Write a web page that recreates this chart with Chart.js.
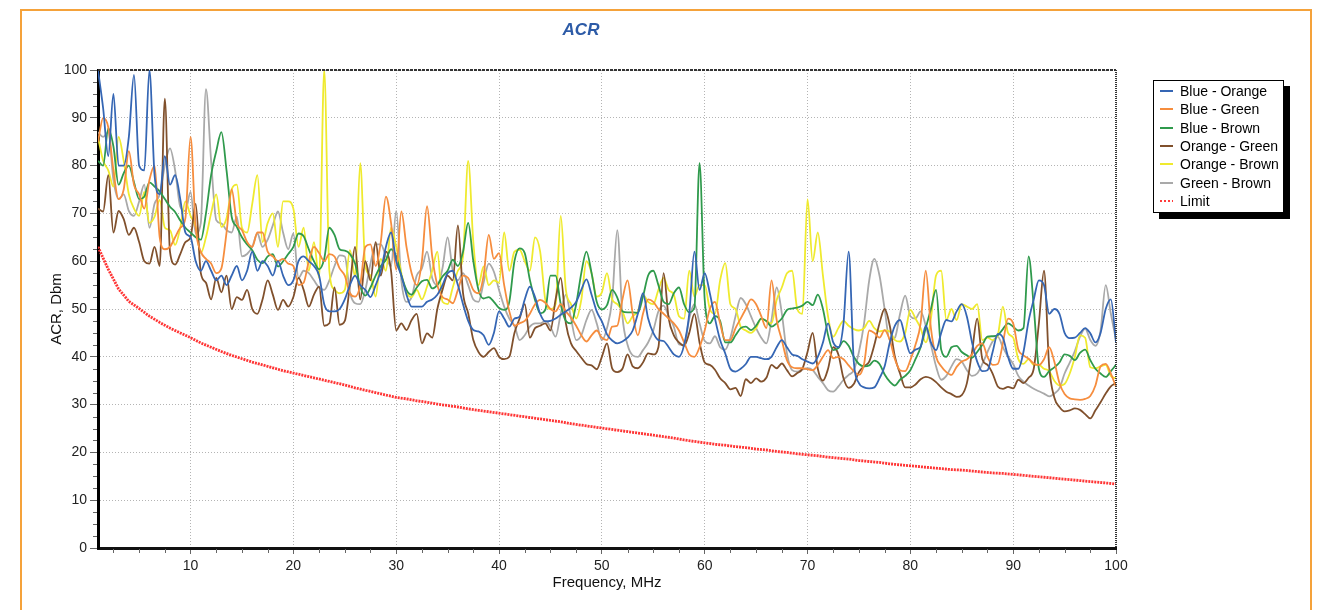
<!DOCTYPE html>
<html>
<head>
<meta charset="utf-8">
<title>ACR</title>
<script src="https://cdn.jsdelivr.net/npm/chart.js@4.4.0/dist/chart.umd.min.js"></script>
<style>
  html, body { margin: 0; padding: 0; background: #fff; }
  body { position: relative; width: 1319px; height: 610px; overflow: hidden; font-family: "Liberation Sans", Arial, sans-serif; }
  .frame { position: absolute; left: 20px; top: 9px; width: 1288px; height: 700px; border: 2px solid #F5A23A; }
  #chart { position: absolute; left: 0; top: 0; }
  .title { position: absolute; left: 541px; top: 20px; width: 80px; text-align: center; font: italic bold 17px "Liberation Sans", Arial, sans-serif; color: #2D5BA7; }
  .legend { position: absolute; left: 1153px; top: 80px; width: 131px; height: 133px; box-sizing: border-box; border: 1px solid #000; background: #fff; box-shadow: 6px 6px 0 #000; padding-top: 1px; }
  .legend .row { display: flex; align-items: center; height: 18.3px; font-size: 14px; color: #000; white-space: nowrap; }
  .legend .swatch { width: 13px; height: 2px; margin-left: 6px; margin-right: 7px; }
  .legend .dots { background: repeating-linear-gradient(to right, #FF3B3B 0 2px, transparent 2px 4px); }
</style>
</head>
<body>
<div class="frame"></div>
<canvas id="chart" width="1319" height="610"></canvas>
<div class="title">ACR</div>
<div class="legend" id="legend"></div>
<script>
// frequency grid of the measured pairs, MHz
const FREQ = [
  1,1.5,2,2.5,3,3.5,4,4.5,5,5.5,6,6.5,7,7.5,8,8.5,9,9.5,10,10.5,
  11,11.5,12,12.5,13,13.5,14,14.5,15,15.5,16,16.5,17,17.5,18,18.5,19,19.5,20,20.5,
  21,21.5,22,22.5,23,23.5,24,24.5,25,25.5,26,26.5,27,27.5,28,28.5,29,29.5,30,30.5,
  31,31.5,32,32.5,33,33.5,34,34.5,35,35.5,36,36.5,37,37.5,38,38.5,39,39.5,40,40.5,
  41,41.5,42,42.5,43,43.5,44,44.5,45,45.5,46,46.5,47,47.5,48,48.5,49,49.5,50,50.5,
  51,51.5,52,52.5,53,53.5,54,54.5,55,55.5,56,56.5,57,57.5,58,58.5,59,59.5,60,60.5,
  61,61.5,62,62.5,63,63.5,64,64.5,65,65.5,66,66.5,67,67.5,68,68.5,69,69.5,70,70.5,
  71,71.5,72,72.5,73,73.5,74,74.5,75,75.5,76,76.5,77,77.5,78,78.5,79,79.5,80,80.5,
  81,81.5,82,82.5,83,83.5,84,84.5,85,85.5,86,86.5,87,87.5,88,88.5,89,89.5,90,90.5,
  91,91.5,92,92.5,93,93.5,94,94.5,95,95.5,96,96.5,97,97.5,98,98.5,99,99.5,100
];

const BLUE_ORANGE = [
  100,92,82,95,80,80,86,99,80,79,100,78,74,82,76,78,73,66,65,60,
  58,60,58,56,57,55,57,59,56,58,62,58,60,59,57,60,57,55,56,60,
  61,60,59,57,51,49.5,49.5,50,52,55,57,55,54,52.5,55,58,63,66,60,57,
  53,50.5,50.5,50.5,51.5,52,53,55,57.5,58,55,51,47.5,45.6,45.3,44.5,42.5,45,49.5,48,
  46.3,48,48.4,52,54.7,52.5,49,47.4,47.5,48,48.8,49.5,50.3,51.5,54,56.2,53,49.5,47.4,44.7,
  43.4,42.8,43.2,44,45.5,49,53.3,48,45,43.5,43.3,42,40.5,40,42.5,49,62,54,57.5,53.3,
  48,43.5,40.7,37.5,36.9,37.5,38.5,40,40,39.7,39.5,40,42,43.5,42,40.5,40.2,39.5,39,38.6,
  40,43,47,43,42,47,62,39,34.5,33.6,33.4,33.6,35.5,38,43,46.5,47.7,44,40.7,41.5,
  42.1,46.5,43,41.4,45,47.7,47.4,49.5,51,48.4,43,39,37,37.2,41,44.8,44,40,37.5,37.5,
  41,47.5,52,56,55,49,50,49,45,43.9,44,45,46,44.9,43,45,50,52,43
];

const BLUE_GREEN = [
  85,90,88,79,73,75,83,76,74,71,77,80,65,62.5,63,65,67,69,86,67,
  62,60.5,59.5,57.5,58.5,66,75,68,66.5,64,63,66,66,62,61,60,60.5,59.5,59,55,
  55.5,60,63,61.7,60,61.5,61,58.5,57,53.3,52.6,55,63,63.5,59,64,73.5,68,58.2,70.4,
  63,57.5,55,60,71.5,61,55,52.5,52,51.2,54,57,56.5,54,53.3,57,65.5,60.5,61.7,55,
  49.5,46.5,47,47.5,49,51,51.9,51.3,50,49.5,51,49.5,48.2,46.5,44.5,43.2,44.5,45.5,44,43.5,
  46.3,46.5,52,56,49,44.5,49,52,51.5,50,49,48,47,45.5,43,40.5,40,42,45.5,50,
  51.5,47,43.5,43.5,46,48,50,52,51,48.5,46,56,47.7,43.5,39.3,37.8,37.6,37.6,37.4,37.2,
  38.3,40,41.4,39.7,40,39.5,38.2,37,36.2,38.5,45.5,45,44,45.6,43.5,39.5,37.2,37,39.3,42.5,
  47,58,46,40,38,36.8,36.2,37.9,39,39.5,40.5,42.3,42.8,40,38.3,38.5,42.8,48,47,41.5,
  40.3,39.6,38.6,38.3,39.5,42,39,34.5,32.2,31.3,31.1,31,31.2,31.8,34,38,38.5,36.5,33.7
];

const BLUE_BROWN = [
  81,80,87.8,84,76,78.4,80,76.5,73,73.5,76.5,75.6,74.6,73,71.4,70.3,68.5,67,66,65,
  64.5,70,78,83,87,79,69.3,67.2,65,63.5,62.3,60.3,59.6,61,61.5,58.9,60,61.5,63,65.8,
  65.2,62.5,60,58.3,60.5,67,65.5,62.5,62.2,61.5,59.5,54.7,52.8,54.5,57,59,60.3,62.5,61,57,
  54,53,54.5,55.8,56.1,54.3,55,56.8,58,60.3,59,62,68,60,54,52.2,52.5,51.5,50.2,49.8,
  51.5,60,62.7,61.7,56.1,51.9,49.1,49.8,57,57,51,47.5,47,51,57.5,62,57.5,51.5,49.9,50.8,
  54,52.4,49.5,49.3,49.3,49.2,52.6,57,58,55,51.5,51,53.3,54.5,51,49.3,50.3,80.5,52,47,
  48.5,47.5,43,43,44.5,46,46.3,45.6,46.5,48,47.5,46.3,47,48,49.8,50.1,50.3,50.7,51.5,50.8,
  53,50,44.5,41.4,41.8,43.3,42.3,40,38.5,38,38.2,39.2,38.5,36.3,34.8,34,35.2,36,37.2,39.5,
  42,46,50,54,41.5,40,42,42.3,41,40.3,39.8,41,42.5,44.2,44.3,44.5,45.8,47,46.3,45.5,
  46,61,50.5,37.5,35.8,37,37.8,38.8,40.5,40.2,39.3,40.8,41.5,39.3,37.5,36.5,35.8,37,38.3
];

const ORANGE_GREEN = [
  71,70.4,78,66,70.5,68.8,65.5,67,64,60,59.5,63,59,94,62,59.3,61.5,64,65,72,
  57.5,55.5,52,56.5,53.5,57,50,52.5,51.9,54,50,49,52,56,53,49.8,51.9,50.5,52.5,56.5,
  54,50.5,53,54.7,46.5,47,54.5,46.7,47.5,55,63,52,60,56,64,57,62,58,45.5,47,
  45.6,47.7,49,42.8,44.9,44,50,54,57,56,67.5,53.3,49.1,43.5,41,40,41,41.8,40,39.5,
  40,45,48,51,44,46,46.5,47,45.5,52,56.5,47,42.8,41.2,39.8,38.5,38.2,37.4,40,42.8,
  37.6,36.8,37.5,40.5,38,37.6,38.8,40.7,40.5,42,57.5,48,44.5,43,42.3,45,49,43,38.8,38.3,
  37.3,35.5,34.5,33.2,33.5,31.8,35.3,34.5,35.5,34.8,35.6,38.3,37.6,38.6,37.2,35.9,36.6,37.5,41,45,
  37.5,35,37.5,42,40.5,35.5,33.5,34.3,36.8,38,39,42.5,47,50,46.5,40,36.5,33.6,33.6,34.2,
  35.3,35.8,35.5,34.7,33.6,32.7,32.2,31.6,32,34.5,41,48,39.5,38.3,36.5,33.8,33.3,33.7,33.4,35.2,
  34.5,35.6,37.5,47,58,38,31.5,29.5,28.6,28.8,29.2,28.9,28,27.1,28.8,30.5,32.3,33.8,34.5
];

const ORANGE_BROWN = [
  86,81,79,75.6,86,81,74,71,69.5,74.5,68,69.3,72.8,67,66.5,63.4,67,72.5,69.5,67.2,
  61.7,65,70,74,67.2,69,75,76,67,66,72,78,64,68,70,63,72.5,72.5,71,63,
  67,58,64,56.5,100,58,54,53.3,54,62.3,56.8,80.5,59,57,52.6,60.5,58,67,63,57.5,
  53.5,52.5,54,52,54.7,58,62,51.5,51,54.5,58,61,81,64,55,58.9,55,56,55.5,66,
  58,62,62.4,60,58,65,62,51.9,50,51,69.5,54,51,48,51.9,60,57.5,52.6,53.5,57.5,
  52,51,49.5,47,48.5,49.5,53,51.5,51,54,56.5,54,53,48.5,48,58,52.6,55,55,50,
  49,56,59.6,51,50,46.3,45.5,45,46,48,47.5,47,51.9,54.5,57.5,58,50,49,73,60,
  66,57,48.4,44.2,46,47.5,46.5,45.8,45.5,46,47.5,46,45.3,45.5,45.3,43.5,43.2,45,49.8,48,
  46,43,48,57,58,47.7,50,47.7,51,50.5,50,51,43.5,44,43.5,44.5,50.5,45,44,39.5,
  38.5,39.5,38.3,38.3,37.5,37,35,34,34.3,36.5,40,44.5,44,37.8,37.6,38,38.3,36,35.5
];

const GREEN_BROWN = [
  87,86,87,77,73,74,70.5,69.5,72.5,76,67,72,74,80,83.6,79,71.4,70.5,74.5,65.8,
  68,96,81,68.6,67.9,66.5,66,69.3,61,61.5,63,65.8,63,64.5,67.5,70.4,66,62.5,65.8,56.5,
  58,57.5,56,54.5,54,56,59,61.2,61,53.5,51.2,51,54,59.5,63.5,63.5,61,58.9,70.5,56,
  51.5,52.5,57,58.5,62,56.5,55,58.5,65,58,56,57.5,55,52,51.5,55.5,59.5,57.8,54,50.5,
  48,46.5,43.5,44.5,46.3,47,47,47.5,46.3,44.2,49,53,48,43.5,44.5,47.7,49.8,47,43.5,46,
  51.9,66.5,48.5,42.5,40.3,40,41.4,43,45.5,49.5,50.7,48.5,46.3,42.6,42.5,48,51,47,43.3,42.8,
  44.3,42,41.5,44,48.5,52.3,51,48.5,46,44,42.8,47.7,54.5,49.1,40.7,37.2,36.9,37.3,37.6,37.2,
  35.8,34.5,33,32.7,33.8,35.2,36.2,37.2,41,47,56,60.5,57,50,43.5,44,49,52.8,48.5,48,
  49.5,46.5,42.5,38,35.2,36,38,39.5,39,37.2,36,36.5,38.5,41,43.2,44.2,42,40,38.5,36,
  34.8,34,33.3,32.8,32.3,31.7,32.3,33.4,36.5,38.8,41.2,44.2,45.9,43.5,42.3,45.5,55,49,43.5
];

// limit curve, read once per MHz
const LIMIT_FREQ = [
  1,2,3,4,5,6,7,8,9,10,11,12,13,14,15,16,17,18,19,20,
  21,22,23,24,25,26,27,28,29,30,31,32,33,34,35,36,37,38,39,40,
  41,42,43,44,45,46,47,48,49,50,51,52,53,54,55,56,57,58,59,60,
  61,62,63,64,65,66,67,68,69,70,71,72,73,74,75,76,77,78,79,80,
  81,82,83,84,85,86,87,88,89,90,91,92,93,94,95,96,97,98,99,100
];
const LIMIT = [
  63,58.3,54.2,51.6,50.1,48.5,47.2,46,45,44,42.9,42,41.1,40.3,39.6,38.9,38.3,37.7,37.1,36.6,
  36.1,35.6,35.1,34.6,34.1,33.5,33,32.5,32,31.5,31.2,30.8,30.5,30.1,29.8,29.5,29.1,28.8,28.5,28.2,
  27.9,27.6,27.3,27,26.7,26.4,26,25.7,25.4,25.1,24.8,24.5,24.2,23.9,23.6,23.3,23,22.6,22.3,22,
  21.7,21.5,21.2,21,20.7,20.5,20.2,20,19.7,19.5,19.3,19,18.8,18.6,18.3,18.1,17.9,17.6,17.4,17.2,
  17,16.8,16.6,16.4,16.3,16.1,15.9,15.7,15.6,15.4,15.2,15,14.8,14.6,14.4,14.2,14,13.8,13.6,13.4
];

const X_TICKS = [10, 20, 30, 40, 50, 60, 70, 80, 90, 100];

const SERIES = [
  { label: 'Blue - Orange',  data: BLUE_ORANGE,  color: '#3566B4' },
  { label: 'Blue - Green',   data: BLUE_GREEN,   color: '#F68D3E' },
  { label: 'Blue - Brown',   data: BLUE_BROWN,   color: '#2F9A4C' },
  { label: 'Orange - Green', data: ORANGE_GREEN, color: '#80502C' },
  { label: 'Orange - Brown', data: ORANGE_BROWN, color: '#EFEA2E' },
  { label: 'Green - Brown',  data: GREEN_BROWN,  color: '#A9A9A9' }
];

const toPoints = (xs, ys) => xs.map((f, i) => ({ x: f, y: ys[i] }));

const datasets = SERIES.map(s => ({
  label: s.label,
  data: toPoints(FREQ, s.data),
  borderColor: s.color,
  backgroundColor: s.color,
  borderWidth: 1.8,
  pointRadius: 0,
  fill: false,
  cubicInterpolationMode: 'monotone'
}));
datasets.push({
  label: 'Limit',
  data: toPoints(LIMIT_FREQ, LIMIT),
  borderColor: '#FF3535',
  borderWidth: 2.8,
  borderDash: [2, 1],
  pointRadius: 0,
  fill: false
});

// short minor ticks every 2.5 plus the dashed top / dotted right frame
const plotFrame = {
  id: 'plotFrame',
  afterDraw(chart) {
    const { ctx, chartArea: a, scales: { x, y } } = chart;
    ctx.save();
    ctx.strokeStyle = '#666';
    ctx.lineWidth = 1;
    ctx.beginPath();
    for (let v = 2.5; v < 100; v += 2.5) {
      if (v % 10 === 0) continue;
      const px = Math.round(x.getPixelForValue(v)) + 0.5;
      ctx.moveTo(px, a.bottom + 1);
      ctx.lineTo(px, a.bottom + 5);
      const py = Math.round(y.getPixelForValue(v)) + 0.5;
      ctx.moveTo(a.left - 5, py);
      ctx.lineTo(a.left - 1, py);
    }
    ctx.stroke();

    ctx.strokeStyle = '#333';
    ctx.lineWidth = 2;
    ctx.setLineDash([3, 1]);
    ctx.beginPath();
    ctx.moveTo(a.left, a.top);
    ctx.lineTo(a.right, a.top);
    ctx.stroke();
    ctx.setLineDash([1, 1]);
    ctx.beginPath();
    ctx.moveTo(a.right, a.top);
    ctx.lineTo(a.right, a.bottom);
    ctx.stroke();
    ctx.restore();
  }
};

Chart.defaults.font.family = '"Liberation Sans", Arial, sans-serif';
Chart.defaults.color = '#111';

new Chart(document.getElementById('chart'), {
  type: 'line',
  data: { datasets },
  options: {
    responsive: false,
    animation: false,
    layout: { padding: { left: 0, right: 203, top: 70, bottom: 0 } },
    plugins: {
      legend: { display: false },
      title: { display: false },
      tooltip: { enabled: false }
    },
    scales: {
      x: {
        type: 'linear',
        min: 1,
        max: 100,
        afterBuildTicks: scale => { scale.ticks = X_TICKS.map(v => ({ value: v })); },
        afterFit: scale => { scale.height = 62; },
        ticks: { font: { size: 14 }, color: '#222', padding: 4, maxRotation: 0 },
        grid: { color: '#B4B4B4', lineWidth: 1, tickLength: 6, tickColor: '#666' },
        border: { display: true, color: '#111', width: 3, dash: [1, 2] },
        title: { display: true, text: 'Frequency, MHz', font: { size: 15 }, color: '#111', padding: { top: 0, bottom: 18 } }
      },
      y: {
        min: 0,
        max: 100,
        ticks: { stepSize: 10, font: { size: 14 }, color: '#222', padding: 3 },
        afterFit: scale => { scale.width = 98; },
        grid: { color: '#B4B4B4', lineWidth: 1, tickLength: 8, tickColor: '#666' },
        border: { display: true, color: '#000', width: 3, dash: [1, 2] },
        title: { display: true, text: 'ACR, Dbm', font: { size: 15 }, color: '#111', padding: { top: 48, bottom: 0 } }
      }
    }
  },
  plugins: [plotFrame]
});

// legend box built from the same series list
const legend = document.getElementById('legend');
SERIES.forEach(s => {
  const row = document.createElement('div');
  row.className = 'row';
  row.innerHTML = '<span class="swatch" style="background:' + s.color + '"></span>' + s.label;
  legend.appendChild(row);
});
const limitRow = document.createElement('div');
limitRow.className = 'row';
limitRow.innerHTML = '<span class="swatch dots"></span>Limit';
legend.appendChild(limitRow);
</script>
</body>
</html>
